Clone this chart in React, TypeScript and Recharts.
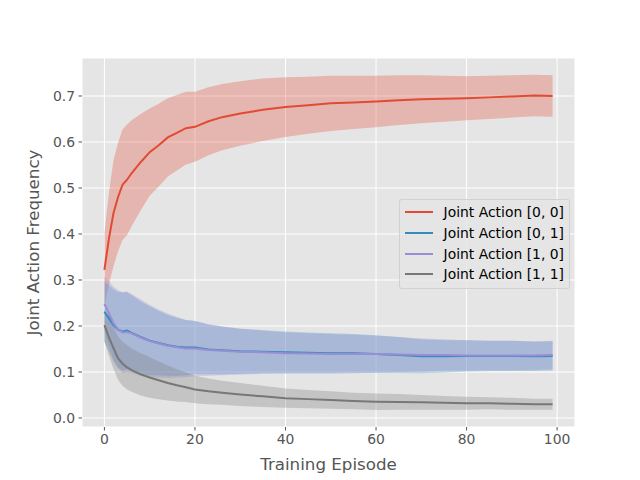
import { ComposedChart, Area, Line, XAxis, YAxis, CartesianGrid, Legend } from "recharts";

const EPISODES = [0, 1, 2, 3, 4, 5, 6, 8, 10, 12, 14, 16, 18, 20, 23, 26, 30, 35, 40, 45, 50, 55, 60, 65, 70, 75, 80, 85, 90, 95, 99];

const RED_MEAN = [0.322, 0.39, 0.445, 0.48, 0.507, 0.518, 0.532, 0.556, 0.578, 0.593, 0.61, 0.62, 0.63, 0.633, 0.645, 0.654, 0.662, 0.67, 0.676, 0.68, 0.684, 0.686, 0.688, 0.691, 0.693, 0.694, 0.695, 0.697, 0.699, 0.701, 0.7];
const RED_STD = [0.08, 0.1, 0.115, 0.118, 0.12, 0.12, 0.115, 0.105, 0.095, 0.09, 0.085, 0.082, 0.079, 0.076, 0.074, 0.072, 0.07, 0.068, 0.065, 0.062, 0.06, 0.058, 0.056, 0.054, 0.052, 0.05, 0.048, 0.047, 0.046, 0.045, 0.045];

const BLUE_MEAN = [0.231, 0.217, 0.202, 0.192, 0.188, 0.19, 0.185, 0.176, 0.168, 0.163, 0.158, 0.155, 0.153, 0.153, 0.149, 0.147, 0.145, 0.144, 0.143, 0.142, 0.141, 0.1405, 0.139, 0.137, 0.134, 0.134, 0.135, 0.135, 0.135, 0.134, 0.135];
const BLUE_STD = [0.065, 0.072, 0.078, 0.082, 0.085, 0.084, 0.082, 0.078, 0.075, 0.07, 0.066, 0.063, 0.06, 0.058, 0.054, 0.052, 0.049, 0.047, 0.045, 0.044, 0.043, 0.042, 0.041, 0.039, 0.037, 0.035, 0.034, 0.033, 0.033, 0.032, 0.032];

const PURPLE_MEAN = [0.248, 0.228, 0.206, 0.193, 0.186, 0.187, 0.184, 0.175, 0.167, 0.162, 0.157, 0.154, 0.151, 0.151, 0.148, 0.146, 0.144, 0.143, 0.141, 0.14, 0.139, 0.139, 0.139, 0.138, 0.137, 0.137, 0.136, 0.136, 0.136, 0.136, 0.137];
const PURPLE_STD = [0.06, 0.07, 0.08, 0.085, 0.088, 0.088, 0.086, 0.083, 0.079, 0.074, 0.07, 0.066, 0.062, 0.06, 0.056, 0.053, 0.05, 0.047, 0.045, 0.044, 0.043, 0.042, 0.04, 0.038, 0.036, 0.034, 0.033, 0.032, 0.032, 0.031, 0.031];

const GRAY_MEAN = [0.202, 0.175, 0.152, 0.13, 0.118, 0.11, 0.104, 0.095, 0.088, 0.082, 0.076, 0.071, 0.067, 0.062, 0.058, 0.055, 0.051, 0.047, 0.043, 0.041, 0.039, 0.037, 0.0355, 0.035, 0.034, 0.033, 0.032, 0.032, 0.031, 0.03, 0.03];
const GRAY_STD = [0.035, 0.04, 0.045, 0.047, 0.048, 0.048, 0.047, 0.046, 0.044, 0.041, 0.038, 0.035, 0.032, 0.03, 0.028, 0.026, 0.025, 0.023, 0.021, 0.02, 0.019, 0.018, 0.018, 0.017, 0.016, 0.015, 0.014, 0.013, 0.013, 0.012, 0.012];

const X_TICKS = [0, 20, 40, 60, 80, 100];
const Y_TICKS = [0, 0.1, 0.2, 0.3, 0.4, 0.5, 0.6, 0.7];

const SERIES = [
  { key: "s00", name: "Joint Action [0, 0]", color: "#E24A33", mean: RED_MEAN, std: RED_STD },
  { key: "s01", name: "Joint Action [0, 1]", color: "#348ABD", mean: BLUE_MEAN, std: BLUE_STD },
  { key: "s10", name: "Joint Action [1, 0]", color: "#988ED5", mean: PURPLE_MEAN, std: PURPLE_STD },
  { key: "s11", name: "Joint Action [1, 1]", color: "#777777", mean: GRAY_MEAN, std: GRAY_STD },
];

const data = EPISODES.map((x, i) => {
  const row: Record<string, number | number[]> = { x };
  SERIES.forEach((s) => {
    row[s.key] = s.mean[i];
    row[s.key + "Band"] = [s.mean[i] - s.std[i], s.mean[i] + s.std[i]];
  });
  return row;
});

const FONT = "'DejaVu Sans', sans-serif";
const TICK_COLOR = "#555555";

const LegendBox = () => (
  <div
    style={{
      background: "rgba(229,229,229,0.8)",
      border: "1px solid rgba(204,204,204,0.8)",
      borderRadius: 3,
      padding: "2px 5px 3px 5px",
      fontFamily: FONT,
      fontSize: 13.9,
      color: "#000",
    }}
  >
    {SERIES.map((s) => (
      <div key={s.key} style={{ display: "flex", alignItems: "center", height: 20.7 }}>
        <span style={{ display: "inline-block", width: 28, height: 2, background: s.color, marginRight: 11 }} />
        <span style={{ whiteSpace: "nowrap" }}>{s.name}</span>
      </div>
    ))}
  </div>
);

const App = () => {
  return (
    <div style={{ position: "absolute", left: 0, top: 0, width: 640, height: 480, background: "#fff", fontFamily: FONT }}>
      <ComposedChart width={640} height={480} data={data} margin={{ top: 58, right: 65, left: 0, bottom: 0 }}>
        <CartesianGrid fill="#E5E5E5" fillOpacity={1} stroke="#FFFFFF" strokeWidth={1} />
        <XAxis
          dataKey="x"
          type="number"
          domain={[-4.95, 103.95]}
          ticks={X_TICKS}
          allowDataOverflow
          height={53}
          axisLine={false}
          tickSize={3.5}
          tickMargin={3.5}
          tickLine={{ stroke: TICK_COLOR }}
          tick={{ fill: TICK_COLOR, fontSize: 13.9, fontFamily: FONT }}
          label={{
            content: ({ viewBox }: any) => (
              <text
                x={viewBox.x + viewBox.width / 2}
                y={viewBox.y + 37}
                textAnchor="middle"
                dominantBaseline="central"
                fill={TICK_COLOR}
                fontSize={16.7}
                fontFamily={FONT}
              >
                Training Episode
              </text>
            ),
          }}
        />
        <YAxis
          type="number"
          domain={[-0.0196, 0.7826]}
          ticks={Y_TICKS}
          allowDataOverflow
          width={82}
          axisLine={false}
          tickSize={3.5}
          tickMargin={3.5}
          tickLine={{ stroke: TICK_COLOR }}
          tick={{ fill: TICK_COLOR, fontSize: 13.9, fontFamily: FONT }}
          tickFormatter={(v: number) => v.toFixed(1)}
          label={{
            content: ({ viewBox }: any) => {
              const cx = viewBox.x + 33;
              const cy = viewBox.y + viewBox.height / 2;
              return (
                <text
                  x={cx}
                  y={cy}
                  transform={`rotate(-90 ${cx} ${cy})`}
                  textAnchor="middle"
                  dominantBaseline="central"
                  fill={TICK_COLOR}
                  fontSize={16.7}
                  fontFamily={FONT}
                >
                  Joint Action Frequency
                </text>
              );
            },
          }}
        />
        {SERIES.flatMap((s) => [
          <Area
            key={s.key + "Band"}
            type="linear"
            dataKey={s.key + "Band"}
            fill={s.color}
            fillOpacity={0.3}
            stroke="none"
            isAnimationActive={false}
            legendType="none"
          />,
          <Line
            key={s.key}
            type="linear"
            dataKey={s.key}
            name={s.name}
            stroke={s.color}
            strokeWidth={2}
            dot={false}
            isAnimationActive={false}
          />,
        ])}
        <Legend
          layout="horizontal"
          align="center"
          verticalAlign="middle"
          wrapperStyle={{ left: 399, top: 199, width: 171, height: "auto" }}
          content={() => <LegendBox />}
        />
      </ComposedChart>
    </div>
  );
};

export default App;
